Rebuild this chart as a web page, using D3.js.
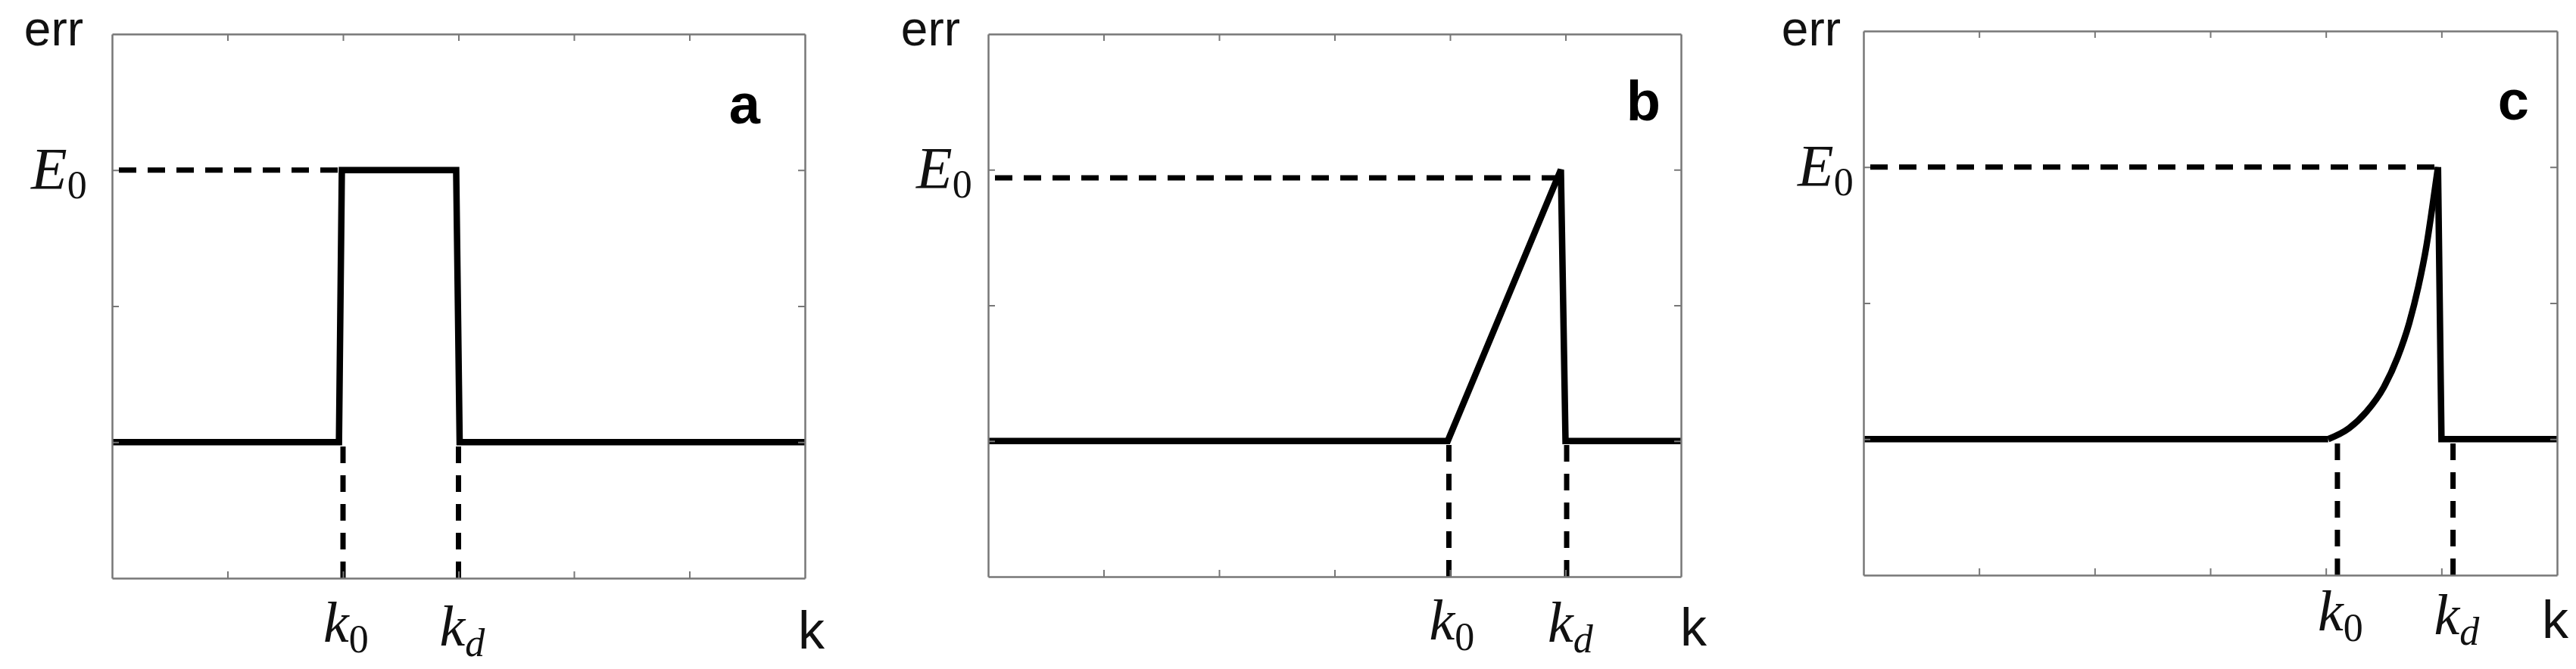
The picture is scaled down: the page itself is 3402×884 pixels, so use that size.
<!DOCTYPE html>
<html><head><meta charset="utf-8">
<script src="https://cdn.jsdelivr.net/npm/d3@7/dist/d3.min.js"></script>
<style>body{margin:0;background:#fff;} svg{display:block}</style>
</head><body><svg id="chart" width="3402" height="884"></svg>
<script>
// ---------- data ----------
const panelNames = ["a", "b", "c"];
const xTickValues = [1, 2, 3, 4, 5];
const yTickValues = [1, 2, 3];
const xDomain = [0, 6];
const yDomain = [0, 4];
const yLabel = "err";
const xLabel = "k";

// panel a: rectangular pulse
const kA   = [0, 1.965, 1.99, 2.98, 3.01, 6];
const errA = [1, 1,     3,    3,    1,    1];
// panel b: linear ramp
const kB   = [0, 3.98, 4.96, 5.0, 6];
const errB = [1, 1,    3,    1,   1];
// panel c: convex ramp
const kC   = [0, 4.02, 4.2,  4.35, 4.5,  4.62, 4.72, 4.8,  4.87, 4.92, 4.97, 5.0, 6];
const errC = [1, 1.0,  1.08, 1.2,  1.38, 1.6,  1.85, 2.12, 2.42, 2.7,  3.0,  1,   1];

// guide (dashed) lines
const e0Level = [3, 2.94, 3];
const e0End   = [1.99, 4.96, 4.97];
const k0Pos   = [2, 3.99, 4.1];
const kdPos   = [3, 5.01, 5.1];

const kSeries = [kA, kB, kC];
const errSeries = [errA, errB, errC];

// ---------- layout (pixel positions / styles) ----------
const layout = [
  {L:148,  R:1063, T:45, B:764, errEnd:110,  e0Start:41,   kStart:1054, kBase:[84,89,93], letterEnd:1004, letterBase:163},
  {L:1305, R:2220, T:45, B:762, errEnd:1268, e0Start:1210, kStart:2219, kBase:[83,86,91], letterEnd:2193, letterBase:159},
  {L:2461, R:3377, T:41, B:760, errEnd:2431, e0Start:2374, kStart:3357, kBase:[73,78,83], letterEnd:3340, letterBase:158}
];
const boxColor = "#777";
const sansFont = "'Liberation Sans', Arial, sans-serif";
const serifFont = "'Liberation Serif', 'Times New Roman', serif";

const svg = d3.select("#chart");

panelNames.forEach((name, i) => {
  const P = layout[i];
  const x = d3.scaleLinear().domain(xDomain).range([P.L, P.R]);
  const y = d3.scaleLinear().domain(yDomain).range([P.B, P.T]);
  const g = svg.append("g");

  // dashed guides
  const dash = g.append("g").attr("fill", "none").attr("stroke", "#000")
    .attr("stroke-width", 7);
  const hl = d3.line().x(d => x(d[0])).y(d => y(d[1]));
  dash.append("path")
    .attr("d", hl([[xDomain[0], e0Level[i]], [e0End[i], e0Level[i]]]))
    .attr("stroke-dasharray", "23,15").attr("stroke-dashoffset", 29);
  [k0Pos[i], kdPos[i]].forEach(kp => {
    dash.append("path")
      .attr("d", hl([[kp, yDomain[0]], [kp, 1]]))
      .attr("stroke-dasharray", "22,16");
  });

  // main curve: smooth rising part (panel c) + linear remainder
  const pts = kSeries[i].map((k, j) => [k, errSeries[i][j]]);
  const peak = d3.maxIndex(pts, d => d[1]);
  const lineStyle = p => p.attr("fill", "none").attr("stroke", "#000")
    .attr("stroke-width", 8.5).attr("stroke-linejoin", "miter").attr("stroke-miterlimit", 4);
  if (i === 2) {
    const smooth = d3.line().x(d => x(d[0])).y(d => y(d[1])).curve(d3.curveMonotoneX);
    const lin = d3.line().x(d => x(d[0])).y(d => y(d[1]));
    g.append("path").attr("d", smooth(pts.slice(1, peak + 1)) ).call(lineStyle);
    g.append("path").attr("d", lin(pts.slice(0, 2))).call(lineStyle);
    g.append("path").attr("d", lin(pts.slice(peak))).call(lineStyle);
  } else {
    const lin = d3.line().x(d => x(d[0])).y(d => y(d[1]));
    g.append("path").attr("d", lin(pts)).call(lineStyle);
  }

  // axes box with inward ticks
  const axes = [
    g.append("g").attr("transform", `translate(0,${P.B})`)
      .call(d3.axisBottom(x).tickValues(xTickValues).tickSizeInner(-9).tickSizeOuter(0).tickFormat("")),
    g.append("g").attr("transform", `translate(0,${P.T})`)
      .call(d3.axisTop(x).tickValues(xTickValues).tickSizeInner(-9).tickSizeOuter(0).tickFormat("")),
    g.append("g").attr("transform", `translate(${P.L},0)`)
      .call(d3.axisLeft(y).tickValues(yTickValues).tickSizeInner(-9).tickSizeOuter(0).tickFormat("")),
    g.append("g").attr("transform", `translate(${P.R},0)`)
      .call(d3.axisRight(y).tickValues(yTickValues).tickSizeInner(-9).tickSizeOuter(0).tickFormat(""))
  ];
  axes.forEach(a => {
    a.select(".domain").attr("stroke", boxColor).attr("stroke-width", 2.5);
    a.selectAll(".tick line").attr("stroke", boxColor).attr("stroke-width", 2);
  });

  // y label "err"
  g.append("text").attr("x", P.errEnd).attr("y", 60).attr("text-anchor", "end")
    .attr("font-family", sansFont).attr("font-size", 64).attr("fill", "#111")
    .text(yLabel);

  // E0 label
  const e0 = g.append("text").attr("x", P.e0Start).attr("y", y(3) + 24)
    .attr("font-family", serifFont).attr("fill", "#111");
  e0.append("tspan").attr("font-style", "italic").attr("font-size", 78).text("E");
  e0.append("tspan").attr("font-size", 52).attr("dy", 13).text("0");

  // k0, kd labels
  const k0 = g.append("text").attr("x", x(k0Pos[i]) - 26).attr("y", P.B + P.kBase[0])
    .attr("font-family", serifFont).attr("fill", "#111");
  k0.append("tspan").attr("font-style", "italic").attr("font-size", 76).text("k");
  k0.append("tspan").attr("font-size", 52).attr("dy", 14).text("0");

  const kd = g.append("text").attr("x", x(kdPos[i]) - 25).attr("y", P.B + P.kBase[1])
    .attr("font-family", serifFont).attr("fill", "#111");
  kd.append("tspan").attr("font-style", "italic").attr("font-size", 76).text("k");
  kd.append("tspan").attr("font-style", "italic").attr("font-size", 52).attr("dy", 14).text("d");

  // x label "k"
  g.append("text").attr("x", P.kStart).attr("y", P.B + P.kBase[2])
    .attr("font-family", sansFont).attr("font-size", 70).attr("fill", "#111")
    .text(xLabel);

  // panel letter
  g.append("text").attr("x", P.letterEnd).attr("y", P.letterBase).attr("text-anchor", "end")
    .attr("font-family", sansFont).attr("font-weight", "bold").attr("font-size", 74)
    .attr("fill", "#000").text(name);
});
</script>
</body></html>
